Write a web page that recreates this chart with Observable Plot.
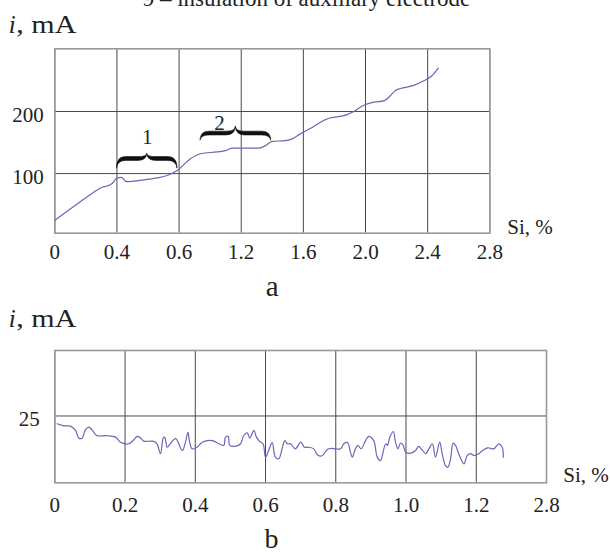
<!DOCTYPE html>
<html>
<head>
<meta charset="utf-8">
<script src="https://cdn.jsdelivr.net/npm/d3@7"></script>
<script src="https://cdn.jsdelivr.net/npm/@observablehq/plot@0.6"></script>
<style>
  html, body { margin: 0; padding: 0; background: #fff; }
  #wrap { position: relative; width: 610px; height: 553px; overflow: hidden; background: #fff; }
  #wrap > svg { position: absolute; left: 0; }
</style>
</head>
<body>
<div id="wrap"></div>
<script>
// ---------- texts ----------
const titleText = "9 – insulation of auxiliary electrode";
const yLabelItalic = "i";
const yLabelRest = ", mA";
const xLabel = "Si, %";
const panelLabels = ["a", "b"];

// ---------- panel a ----------
const topTicks = [0, 0.4, 0.8, 1.2, 1.6, 2.0, 2.4, 2.8];
const topTickLabels = ["0", "0.4", "0.6", "1.2", "1.6", "2.0", "2.4", "2.8"];
const topYTicks = [100, 200];
const topX = [0, 0.144, 0.251, 0.305, 0.337, 0.369, 0.402, 0.427, 0.444, 0.46, 0.552, 0.659, 0.723, 0.788, 0.873, 0.938, 1.045, 1.099, 1.142, 1.195, 1.313, 1.356, 1.399, 1.485, 1.528, 1.581, 1.667, 1.742, 1.882, 1.925, 1.989, 2.053, 2.118, 2.15, 2.193, 2.225, 2.311, 2.371, 2.429, 2.468];
const topY = [25, 51, 70, 78, 80, 84, 93, 94, 91, 87, 89, 93, 97, 105, 124, 132, 135, 137, 141, 141, 141, 145, 152, 153, 156, 164, 176, 187, 195, 200, 210, 215, 217, 223, 234, 237, 242, 249, 258, 270];

// braces (annotations) on panel a
const braceX1 = [0.40, 0.938];
const braceX2 = [0.79, 1.393];
const braceEnd = [108, 153];
const braceShoulder = [123.5, 164.5];
const braceTip = [132, 176];
const braceLabels = ["1", "2"];
const braceLabelX = [0.595, 1.06];
const braceLabelY = [148, 169.5];

// ---------- panel b ----------
const botTicks = [0, 0.2, 0.4, 0.6, 0.8, 1.0, 1.2, 1.4];
const botTickLabels = ["0", "0.2", "0.4", "0.6", "0.8", "1.0", "1.2", "2.8"];
const botYTicks = [25];
const botX = [0.007, 0.016, 0.026, 0.045, 0.059, 0.068, 0.078, 0.087, 0.097, 0.106, 0.119, 0.149, 0.173, 0.187, 0.211, 0.225, 0.235, 0.244, 0.253, 0.277, 0.287, 0.293, 0.301, 0.309, 0.313, 0.32, 0.329, 0.344, 0.363, 0.372, 0.379, 0.384, 0.391, 0.405, 0.42, 0.448, 0.467, 0.481, 0.486, 0.494, 0.498, 0.515, 0.529, 0.538, 0.548, 0.555, 0.567, 0.574, 0.584, 0.593, 0.6, 0.609, 0.619, 0.628, 0.638, 0.647, 0.655, 0.662, 0.671, 0.685, 0.7, 0.711, 0.723, 0.737, 0.749, 0.761, 0.776, 0.787, 0.799, 0.813, 0.823, 0.833, 0.842, 0.847, 0.856, 0.863, 0.872, 0.885, 0.894, 0.908, 0.918, 0.927, 0.942, 0.947, 0.954, 0.964, 0.97, 0.977, 0.984, 0.992, 0.999, 1.013, 1.027, 1.036, 1.046, 1.056, 1.065, 1.075, 1.084, 1.096, 1.103, 1.112, 1.119, 1.127, 1.134, 1.141, 1.15, 1.165, 1.174, 1.184, 1.193, 1.207, 1.22, 1.233, 1.25, 1.264, 1.274, 1.277];
const botY = [22.1, 21.7, 21.3, 21.2, 19.6, 16.8, 16.7, 19.8, 20.8, 19.8, 17.7, 17.6, 17.1, 15.2, 14.6, 16.1, 17.4, 16.8, 15.6, 15.6, 15.2, 14.0, 10.9, 16.8, 17.1, 13.3, 14.6, 16.5, 12.1, 15.2, 18.9, 15.2, 12.7, 13.3, 15.2, 15.8, 14.6, 14.0, 17.1, 17.4, 14.0, 13.7, 14.6, 17.7, 18.7, 16.7, 19.6, 17.1, 15.4, 14.6, 9.6, 12.1, 15.0, 9.6, 9.0, 12.7, 15.8, 14.6, 14.6, 12.7, 15.2, 13.3, 13.3, 12.7, 10.3, 10.1, 12.5, 12.9, 12.7, 12.7, 14.6, 15.2, 11.4, 9.6, 12.7, 14.0, 12.7, 15.8, 17.4, 15.8, 9.6, 8.3, 14.6, 14.0, 17.1, 19.2, 15.2, 12.7, 14.8, 14.0, 11.4, 11.1, 12.1, 13.6, 12.3, 10.9, 12.7, 14.6, 9.6, 15.2, 10.9, 6.5, 5.8, 9.0, 14.8, 14.0, 10.9, 7.1, 10.2, 10.9, 10.2, 10.9, 12.3, 13.1, 12.7, 14.6, 13.3, 9.6];

// ---------- styles ----------
const FONT = "Liberation Serif, Times New Roman, serif";
const lineColor = "#6c66b6";
const gridColor = "#4a4a4a";
const frameColor = "#9a9a9a";
const textColor = "#222";

const topData = topX.map((x, i) => ({x, y: topY[i]}));
const botData = botX.map((x, i) => ({x, y: botY[i]}));

function braceMark(index, scales) {
  const sx = scales.x, sy = scales.y;
  const g = d3.create("svg:g");
  const t = 3.8;
  for (let i = 0; i < braceX1.length; ++i) {
    const X1 = sx(braceX1[i]), X2 = sx(braceX2[i]);
    const Xm = (X1 + X2) / 2;
    const Ye = sy(braceEnd[i]), Ys = sy(braceShoulder[i]), Yt = sy(braceTip[i]);
    const q = Math.min(9, (X2 - X1) / 6);
    const a = Ys - t / 2, b = Ys + t / 2;
    const d = [
      `M${X1},${Ye}`,
      `Q${X1},${a} ${X1 + q},${a}`,
      `L${Xm - q},${a}`,
      `Q${Xm},${a} ${Xm},${Yt}`,
      `Q${Xm},${a} ${Xm + q},${a}`,
      `L${X2 - q},${a}`,
      `Q${X2},${a} ${X2},${Ye}`,
      `Q${X2 - 1},${b} ${X2 - q},${b}`,
      `L${Xm + q},${b}`,
      `Q${Xm + 1},${b} ${Xm},${Yt + 1}`,
      `Q${Xm - 1},${b} ${Xm - q},${b}`,
      `L${X1 + q},${b}`,
      `Q${X1 + 1},${b} ${X1},${Ye}`,
      "Z"
    ].join(" ");
    g.append("path").attr("d", d).attr("fill", "#111").attr("stroke", "#111").attr("stroke-width", 0.6);
  }
  return g.node();
}

function yLabelMarks(x, base, ml, mt) {
  return [
    Plot.text([yLabelItalic], {text: d => d, frameAnchor: "top-left", textAnchor: "start", lineAnchor: "bottom", dx: x - ml, dy: base - mt, fontSize: 25, fontStyle: "italic", fill: textColor}),
    Plot.text([yLabelRest], {text: d => d, frameAnchor: "top-left", textAnchor: "start", lineAnchor: "bottom", dx: x + 7.5 - ml, dy: base - mt, fontSize: 25, fill: textColor})
  ];
}

// ---------- panel a plot ----------
const A = {W: 610, H: 300, ml: 54.3, mr: 610 - 489.3, mt: 48.3, mb: 300 - 232.7};
const plotA = Plot.plot({
  width: A.W, height: A.H,
  marginLeft: A.ml, marginRight: A.mr, marginTop: A.mt, marginBottom: A.mb,
  style: {fontFamily: FONT, fontSize: "21px", background: "white", color: textColor},
  x: {domain: [0, 2.8], axis: null},
  y: {domain: [4, 301], axis: null},
  marks: [
    Plot.ruleX(topTicks, {stroke: gridColor, strokeWidth: 1}),
    Plot.ruleY(topYTicks, {stroke: gridColor, strokeWidth: 1}),
    Plot.frame({stroke: frameColor, strokeWidth: 1.6}),
    Plot.line(topData, {x: "x", y: "y", stroke: lineColor, strokeWidth: 1.2, curve: "monotone-x"}),
    braceMark,
    Plot.text(braceLabels, {x: (d, i) => braceLabelX[i], y: (d, i) => braceLabelY[i], text: d => d, fontSize: 21, lineAnchor: "bottom", fill: "#222"}),
    Plot.text(topTicks, {x: d => d, text: (d, i) => topTickLabels[i], frameAnchor: "bottom", lineAnchor: "bottom", dy: 25.6, fill: textColor}),
    Plot.text(topYTicks, {y: d => d, text: d => String(d), frameAnchor: "left", textAnchor: "end", lineAnchor: "bottom", dx: -11, dy: 10, fill: textColor}),
    Plot.text([xLabel], {text: d => d, frameAnchor: "bottom-right", textAnchor: "start", lineAnchor: "bottom", dx: 17.4, dy: 0.3, fontSize: 21, fill: textColor}),
    Plot.text([titleText], {text: d => d, frameAnchor: "top-left", textAnchor: "middle", lineAnchor: "bottom", dx: 306 - A.ml, dy: 5 - A.mt, fontSize: 23, fill: textColor}),
    Plot.text([panelLabels[0]], {text: d => d, frameAnchor: "top-left", textAnchor: "middle", lineAnchor: "bottom", dx: 271.7 - A.ml, dy: 295 - A.mt, fontSize: 29, fill: textColor}),
    ...yLabelMarks(8.3, 32.3, A.ml, A.mt)
  ]
});
plotA.style.top = "0px";

// ---------- panel b plot ----------
const B = {W: 610, H: 253, ml: 54.3, mr: 610 - 546, mt: 350 - 300, mb: 553 - 482.3};
const plotB = Plot.plot({
  width: B.W, height: B.H,
  marginLeft: B.ml, marginRight: B.mr, marginTop: B.mt, marginBottom: B.mb,
  style: {fontFamily: FONT, fontSize: "21px", background: "white", color: textColor},
  x: {domain: [0, 1.4], axis: null},
  y: {domain: [0, 49.5], axis: null},
  marks: [
    Plot.ruleX(botTicks, {stroke: gridColor, strokeWidth: 1}),
    Plot.ruleY(botYTicks, {stroke: gridColor, strokeWidth: 1}),
    Plot.frame({stroke: frameColor, strokeWidth: 1.6}),
    Plot.line(botData, {x: "x", y: "y", stroke: lineColor, strokeWidth: 1.2, curve: "catmull-rom"}),
    Plot.text(botTicks, {x: d => d, text: (d, i) => botTickLabels[i], frameAnchor: "bottom", lineAnchor: "bottom", dy: 29.4, fill: textColor}),
    Plot.text(botYTicks, {y: d => d, text: d => String(d), frameAnchor: "left", textAnchor: "end", lineAnchor: "bottom", dx: -15, dy: 10, fill: textColor}),
    Plot.text([xLabel], {text: d => d, frameAnchor: "bottom-right", textAnchor: "start", lineAnchor: "bottom", dx: 16.7, dy: -0.6, fontSize: 21, fill: textColor}),
    Plot.text([panelLabels[1]], {text: d => d, frameAnchor: "top-left", textAnchor: "middle", lineAnchor: "bottom", dx: 271 - B.ml, dy: 247 - B.mt, fontSize: 28, fill: textColor}),
    ...yLabelMarks(8.3, 26.7, B.ml, B.mt)
  ]
});
plotB.style.top = "300px";

// the reference's "i, mA" labels are set a little wider than this face: stretch to its width
for (const p of [plotA, plotB]) {
  d3.select(p).selectAll("text")
    .filter(function () { return this.textContent === yLabelRest; })
    .attr("textLength", 60)
    .attr("lengthAdjust", "spacingAndGlyphs");
}

const wrap = document.getElementById("wrap");
wrap.appendChild(plotA);
wrap.appendChild(plotB);
</script>
</body>
</html>
